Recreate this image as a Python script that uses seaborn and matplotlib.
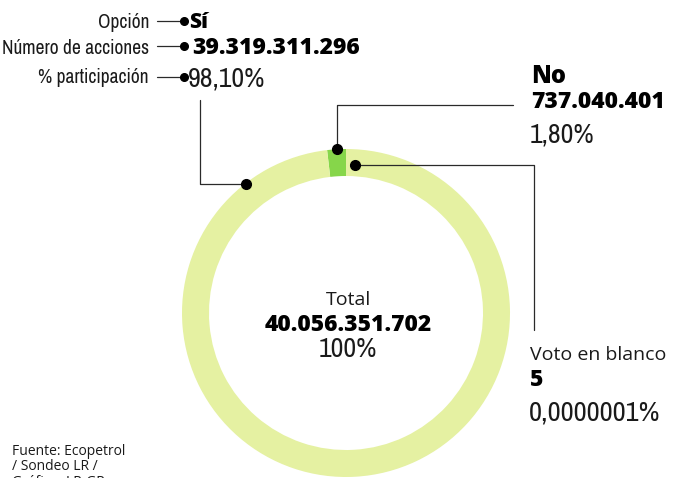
import numpy as np
import matplotlib
matplotlib.use("Agg")
import matplotlib.pyplot as plt
import seaborn as sns
from matplotlib import font_manager as fm

# votos de la asamblea (acciones)
opciones = ["Voto en blanco", "No", "Sí"]
acciones = [5, 737040401, 39319311296]
acciones_txt = ["5", "737.040.401", "39.319.311.296"]
porcentajes_txt = ["0,0000001%", "1,80%", "98,10%"]
total_txt = "40.056.351.702"
colores = ["#111111", "#86d64a", "#e5f1a2"]

sns.set_theme(style="white")
names = {f.name for f in fm.fontManager.ttflist}
SANS = "Open Sans" if "Open Sans" in names else "DejaVu Sans"
plt.rcParams["font.family"] = [SANS, "DejaVu Sans"]

# buscar una fuente estrecha
narrow = [f for f in fm.fontManager.ttflist
          if ("Narrow" in f.name or "Condensed" in f.name or "Condensed" in f.fname
              or str(f.stretch) in ("condensed", "semi-condensed", "extra-condensed"))
          and f.weight in (400, "normal", "regular") and f.style == "normal"]
narrow.sort(key=lambda f: ("DejaVu" in f.fname, f.fname))


def fp_narrow(size):
    if narrow:
        return fm.FontProperties(fname=narrow[0].fname, size=size)
    return fm.FontProperties(family="DejaVu Sans", size=size * 0.82)


W, H = 676, 478
fig = plt.figure(figsize=(W / 100, H / 100), dpi=100)
fig.patch.set_facecolor("white")
ax = fig.add_axes([0, 0, 1, 1])

cx, cy, R, ancho = 346, 313, 164, 27
wedges, _ = ax.pie(acciones, colors=colores, startangle=270, counterclock=False,
                   center=(cx, cy), radius=R,
                   wedgeprops=dict(width=ancho, linewidth=0))
# voto en blanco: marca negra
wedges[0].set_edgecolor("black")
wedges[0].set_linewidth(3)

ax.set_xlim(0, W)
ax.set_ylim(H, 0)
ax.set_aspect("equal")
ax.axis("off")

lc = "#2a2a2a"
lw = 0.9
txt = "#1a1a1a"
bold = dict(fontweight=800, color="black")

# etiquetas de la leyenda (Sí)
etiquetas = ["Opción", "Número de acciones", "% participación"]
ys_base = [28, 54, 83]
ys_line = [21, 46, 77]
for et, yb, yl in zip(etiquetas, ys_base, ys_line):
    ax.text(149, yb, et, ha="right", va="baseline", fontproperties=fp_narrow(14), color=txt)
    ax.plot([157, 184], [yl, yl], color=lc, lw=lw)
    ax.plot(184, yl, "o", color="black", ms=5.5)
ax.text(189, 28, opciones[2], ha="left", va="baseline", fontsize=15, **bold)
ax.text(192, 54, acciones_txt[2], ha="left", va="baseline", fontsize=16.5, **bold)
ax.text(188, 86, porcentajes_txt[2], ha="left", va="baseline", fontproperties=fp_narrow(20), color=txt)

# linea hacia el anillo (Sí)
ax.plot([200, 200, 246], [100, 184, 184], color=lc, lw=lw)
ax.plot(246, 184, "o", color="black", ms=7)

# No
t = np.deg2rad((wedges[1].theta1 + wedges[1].theta2) / 2)
nx, ny = cx + R * np.cos(t), cy + R * np.sin(t)
ax.plot([nx, nx, 513], [ny, 105, 105], color=lc, lw=lw)
ax.plot(nx, ny, "o", color="black", ms=7)
ax.text(531, 83, opciones[1], ha="left", va="baseline", fontsize=17, **bold)
ax.text(531, 108, acciones_txt[1], ha="left", va="baseline", fontsize=16.5, **bold)
ax.text(530, 142, porcentajes_txt[1], ha="left", va="baseline", fontproperties=fp_narrow(20), color=txt)

# Voto en blanco
ax.plot([355, 534, 534], [165, 165, 330], color=lc, lw=lw)
ax.plot(355, 165, "o", color="black", ms=7)
ax.text(530, 360, opciones[0], ha="left", va="baseline", fontsize=14, color=txt)
ax.text(530, 386, acciones_txt[0], ha="left", va="baseline", fontsize=16.5, **bold)
ax.text(529, 421, porcentajes_txt[0], ha="left", va="baseline", fontproperties=fp_narrow(20.5), color=txt)

# total en el centro
ax.text(cx + 2, 305, "Total", ha="center", va="baseline", fontsize=14, color=txt)
ax.text(cx + 2, 331, total_txt, ha="center", va="baseline", fontsize=16.5, **bold)
ax.text(cx + 2, 357, "100%", ha="center", va="baseline", fontproperties=fp_narrow(20), color=txt)

# fuente
ax.text(12, 455, "Fuente: Ecopetrol", ha="left", va="baseline", fontsize=10, color=txt)
ax.text(12, 470, "/ Sondeo LR /", ha="left", va="baseline", fontsize=10, color=txt)
ax.text(12, 486, "Gráfico: LR-GR", ha="left", va="baseline", fontsize=10, color=txt)

fig.savefig("out.png", dpi=100, facecolor="white")
